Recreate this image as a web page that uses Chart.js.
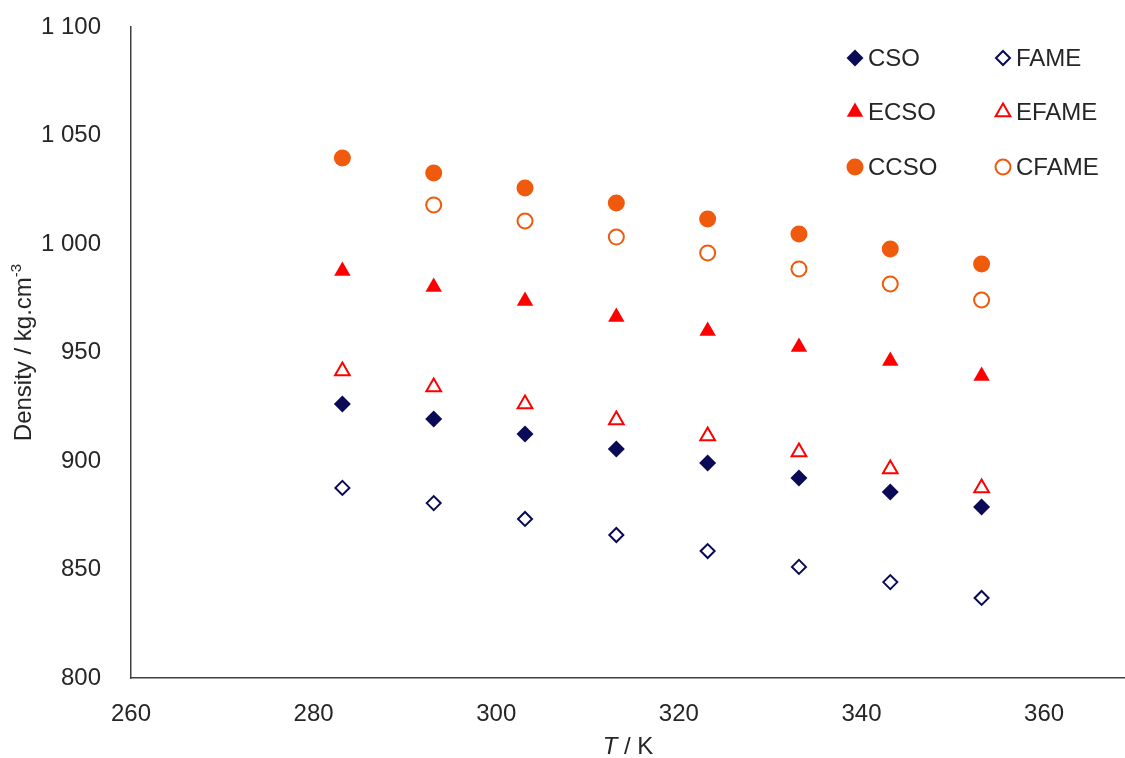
<!DOCTYPE html>
<html>
<head>
<meta charset="utf-8">
<script src="https://cdn.jsdelivr.net/npm/chart.js@4/dist/chart.umd.min.js"></script>
<style>
  html, body { margin: 0; padding: 0; background: #fff; overflow: hidden; }
  /* a bit wider than the window: the x axis runs off the right edge as in the original */
  #wrap { width: 1135px; height: 758px; }
</style>
</head>
<body>
<div id="wrap"><canvas id="densityChart"></canvas></div>
<script>
// temperatures in K
const tempAll = [283.15, 293.15, 303.15, 313.15, 323.15, 333.15, 343.15, 353.15];
const tempCfame = [293.15, 303.15, 313.15, 323.15, 333.15, 343.15, 353.15];

// densities
const cso = [926.3, 919.4, 912.4, 905.5, 899.1, 892.2, 885.7, 878.8];
const fame = [887.6, 880.6, 873.3, 865.9, 858.5, 851.2, 844.2, 836.9];
const ecso = [987.6, 980.2, 973.7, 966.4, 959.9, 952.5, 946.1, 939.2];
const efame = [941.5, 934.1, 926.3, 918.9, 911.5, 904.1, 896.3, 887.6];
const ccso = [1039.6, 1032.7, 1025.8, 1018.9, 1011.5, 1004.6, 997.7, 990.8];
const cfame = [1018.0, 1010.6, 1003.2, 995.9, 988.5, 981.6, 974.2];

const xTicks = [260, 280, 300, 320, 340, 360];
const yTicks = [800, 850, 900, 950, 1000, 1050, 1100];

const NAVY = "#0a0a57";
const RED = "#ff0000";
const ORANGE = "#ef5a0c";
const TEXT = "#262626";
const FONT = "'Liberation Sans', Arial, sans-serif";

function toPoints(xs, ys) {
  return xs.map((x, i) => ({ x: x, y: ys[i] }));
}

function makeSet(label, xs, ys, color, style, filled, radius) {
  return {
    label: label,
    data: toPoints(xs, ys),
    pointStyle: style,
    pointRadius: radius,
    pointHoverRadius: radius,
    pointBackgroundColor: filled ? color : "rgba(0,0,0,0)",
    pointBorderColor: color,
    pointBorderWidth: filled ? 0 : 2,
    backgroundColor: filled ? color : "rgba(0,0,0,0)",
    borderColor: color,
    showLine: false,
  };
}

const datasets = [
  makeSet("CSO", tempAll, cso, NAVY, "rectRot", true, 8.5),
  makeSet("FAME", tempAll, fame, NAVY, "rectRot", false, 7),
  makeSet("ECSO", tempAll, ecso, RED, "triangle", true, 9.5),
  makeSet("EFAME", tempAll, efame, RED, "triangle", false, 8.5),
  makeSet("CCSO", tempAll, ccso, ORANGE, "circle", true, 8.5),
  makeSet("CFAME", tempCfame, cfame, ORANGE, "circle", false, 7.5),
];

// two-column legend in the top right corner
const gridLegend = {
  id: "gridLegend",
  afterDraw(chart) {
    const ctx = chart.ctx;
    const colX = [855, 1003];
    const rowY = [58, 112, 167];
    ctx.save();
    chart.data.datasets.forEach((ds, i) => {
      const x = colX[i % 2];
      const y = rowY[Math.floor(i / 2)];
      ctx.fillStyle = ds.pointBackgroundColor;
      ctx.strokeStyle = ds.pointBorderColor;
      ctx.lineWidth = ds.pointBorderWidth;
      Chart.helpers.drawPoint(ctx, {
        pointStyle: ds.pointStyle,
        radius: ds.pointRadius,
        borderWidth: ds.pointBorderWidth,
        rotation: 0,
      }, x, y);
      ctx.fillStyle = TEXT;
      ctx.font = "24px " + FONT;
      ctx.textBaseline = "middle";
      ctx.textAlign = "left";
      ctx.fillText(ds.label, x + 13, y + 1);
    });
    ctx.restore();
  },
};

// axis titles with italic T and superscript -3
const axisTitles = {
  id: "axisTitles",
  afterDraw(chart) {
    const ctx = chart.ctx;
    const area = chart.chartArea;
    ctx.save();
    ctx.fillStyle = TEXT;
    ctx.textBaseline = "alphabetic";
    ctx.textAlign = "left";

    // x title, centred on the visible part of the plot
    ctx.font = "italic 24px " + FONT;
    const tW = ctx.measureText("T").width;
    ctx.font = "24px " + FONT;
    const restW = ctx.measureText(" / K").width;
    let x = (area.left + 1125) / 2 - (tW + restW) / 2;
    const y = 754;
    ctx.font = "italic 24px " + FONT;
    ctx.fillText("T", x, y);
    ctx.font = "24px " + FONT;
    ctx.fillText(" / K", x + tW, y);

    // y title
    const main = "Density / kg.cm";
    const sup = "-3";
    ctx.font = "24px " + FONT;
    const mW = ctx.measureText(main).width;
    ctx.font = "15px " + FONT;
    const sW = ctx.measureText(sup).width;
    ctx.translate(31, (area.top + area.bottom) / 2);
    ctx.rotate(-Math.PI / 2);
    const start = -(mW + sW) / 2;
    ctx.font = "24px " + FONT;
    ctx.fillText(main, start, 0);
    ctx.font = "15px " + FONT;
    ctx.fillText(sup, start + mW, -10);
    ctx.restore();
  },
};

function formatThousands(value) {
  if (value >= 1000) {
    return Math.floor(value / 1000) + " " + String(value % 1000).padStart(3, "0");
  }
  return String(value);
}

const ctx = document.getElementById("densityChart").getContext("2d");
new Chart(ctx, {
  type: "scatter",
  data: { datasets: datasets },
  options: {
    responsive: true,
    maintainAspectRatio: false,
    animation: false,
    layout: { padding: { top: 27, right: 0, bottom: 0, left: 0 } },
    plugins: {
      legend: { display: false },
      tooltip: { enabled: false },
    },
    scales: {
      x: {
        type: "linear",
        min: 260,
        max: 368.8,
        grid: { display: false, drawTicks: false },
        border: { display: true, color: "#404040", width: 1.5 },
        afterBuildTicks: (scale) => {
          scale.ticks = xTicks.map((v) => ({ value: v }));
        },
        afterFit: (scale) => {
          scale.height = 80;
          scale.paddingLeft = 0;
          scale.paddingRight = 0;
        },
        ticks: {
          color: TEXT,
          font: { family: FONT, size: 24 },
          padding: 22,
          maxRotation: 0,
        },
      },
      y: {
        type: "linear",
        min: 800,
        max: 1100,
        grid: { display: false, drawTicks: false },
        border: { display: true, color: "#404040", width: 1.5 },
        afterBuildTicks: (scale) => {
          scale.ticks = yTicks.map((v) => ({ value: v }));
        },
        afterFit: (scale) => {
          scale.width = 131;
          scale.paddingTop = 0;
          scale.paddingBottom = 0;
        },
        ticks: {
          color: TEXT,
          font: { family: FONT, size: 24 },
          padding: 30,
          callback: (value) => formatThousands(value),
        },
      },
    },
  },
  plugins: [gridLegend, axisTitles],
});
</script>
</body>
</html>
